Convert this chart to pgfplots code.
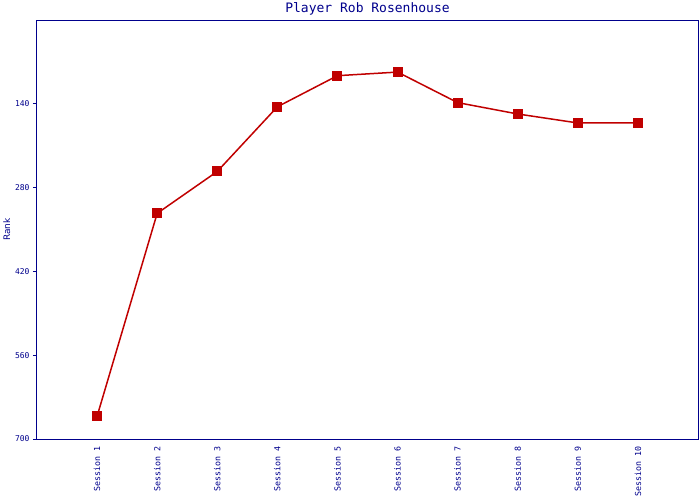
\documentclass[border=0pt]{standalone}
\usepackage{pgfplots}
\pgfplotsset{compat=1.18}
\usepackage{fontspec}
\setmainfont{DejaVu Sans}
\newfontfamily\monofont{DejaVu Sans Mono}
\definecolor{axblue}{RGB}{0,0,140}
\definecolor{linered}{RGB}{192,0,0}
\begin{document}
\begin{tikzpicture}[x=1pt,y=1pt]
\path[use as bounding box] (-37,-61) rectangle (663,439);
\begin{axis}[
  at={(0,0)}, anchor=south west,
  scale only axis, width=661pt, height=419pt,
  xmin=0, xmax=11, ymin=0, ymax=700,
  y dir=reverse,
  axis line style={axblue, line width=1pt},
  xtick={1,...,10},
  xticklabels={Session 1,Session 2,Session 3,Session 4,Session 5,Session 6,Session 7,Session 8,Session 9,Session 10},
  xticklabel style={rotate=90, anchor=east, font=\monofont\fontsize{8.3}{9}\selectfont, text=axblue},
  xtick style={draw=none},
  ytick={140,280,420,560,700},
  yticklabel style={font=\monofont\fontsize{8}{9}\selectfont, text=axblue},
  /pgf/number format/assume math mode=true,
  ytick style={axblue, line width=1pt},
  tick align=outside, major tick length=4pt,
  xtick pos=bottom, ytick pos=left,
  ylabel={Rank},
  ylabel style={font=\fontsize{9}{10}\selectfont, text=axblue},
  ylabel shift=-2pt,
  title={Player Rob Rosenhouse},
  title style={font=\monofont\fontsize{13}{14}\selectfont, text=axblue, yshift=-5pt},
]
\addplot[linered, line width=1.5pt, mark=square*, mark size=4.5pt, mark options={solid, fill=linered, draw=linered, line width=0pt}]
coordinates {(1,662) (2,323) (3,253) (4,145) (5,93) (6,87) (7,138) (8,157) (9,172) (10,172)};
\end{axis}
\end{tikzpicture}
\end{document}
